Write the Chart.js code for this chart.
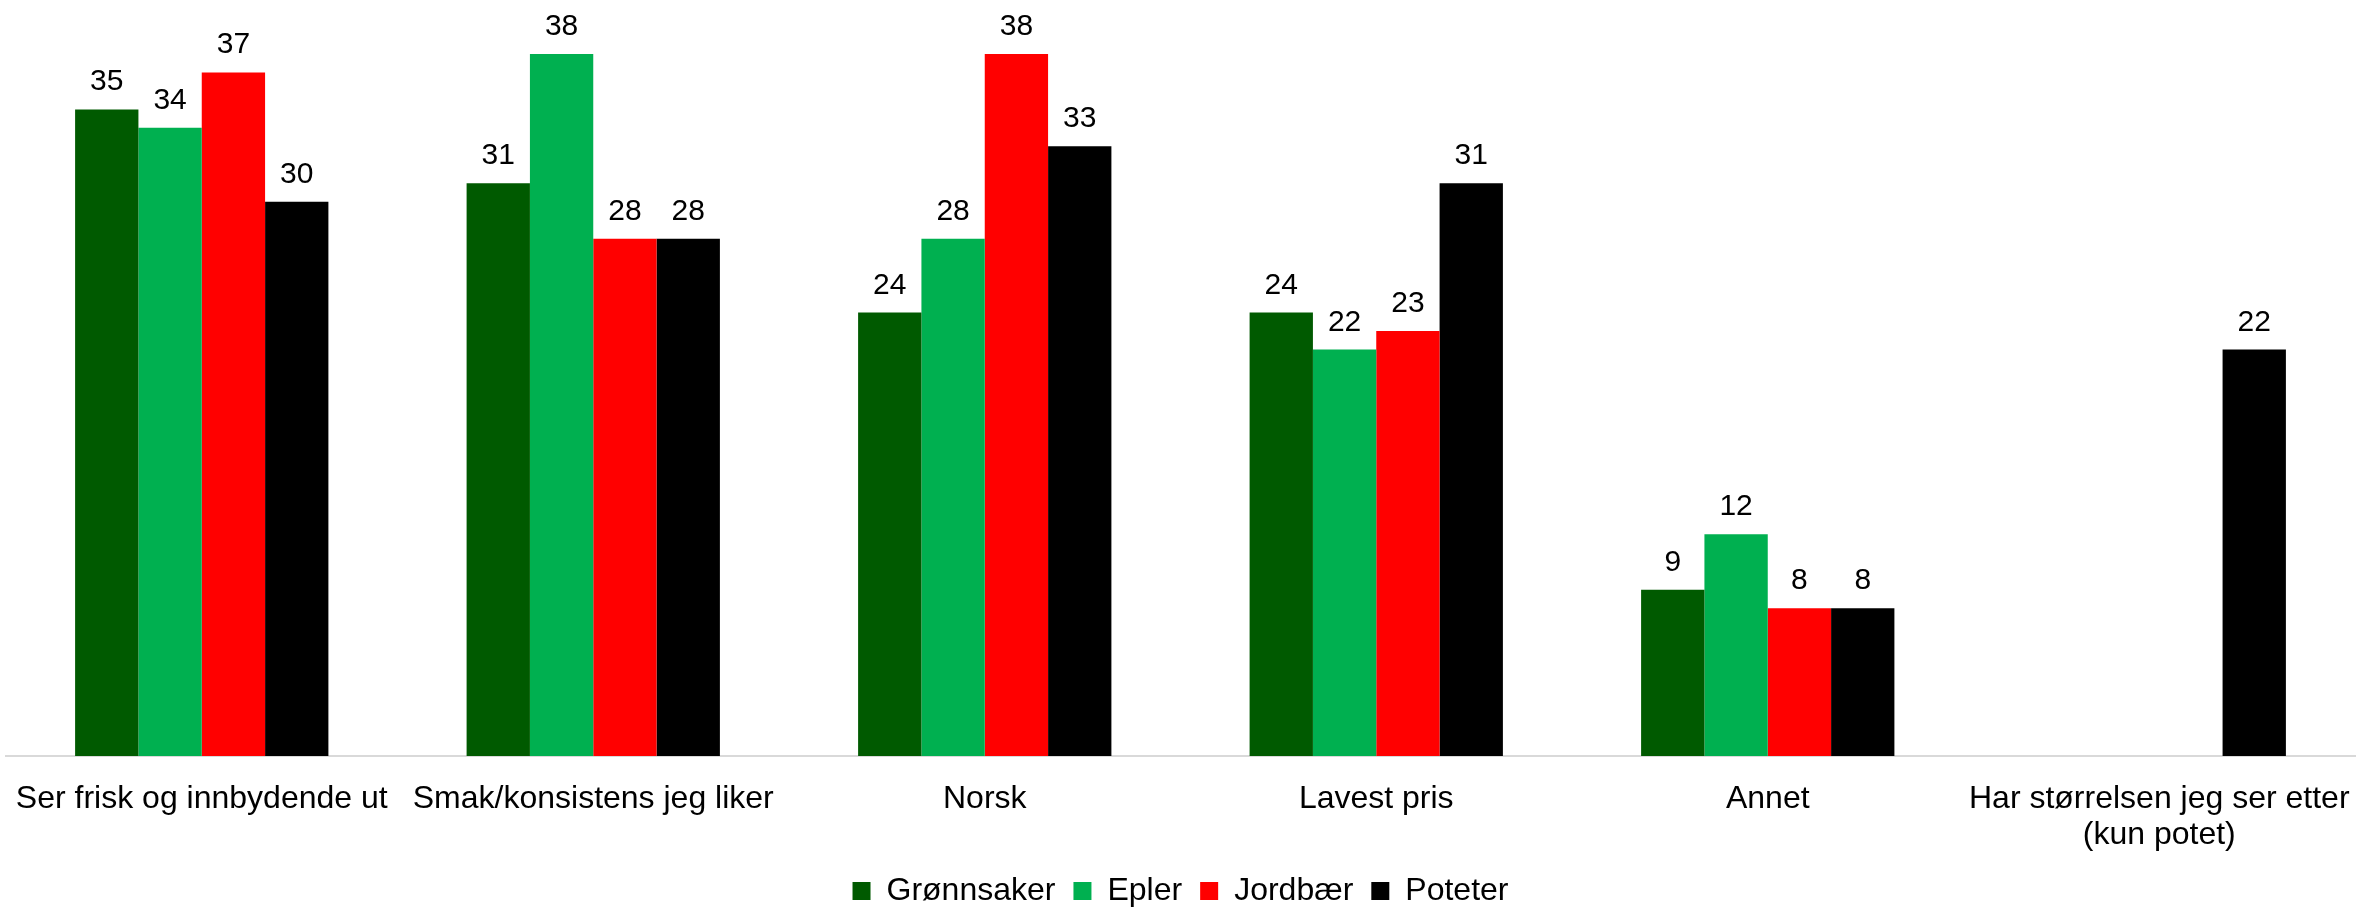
<!DOCTYPE html>
<html lang="no">
<head>
<meta charset="utf-8">
<title>Viktigste kjøpskriterier</title>
<script src="https://cdn.jsdelivr.net/npm/chart.js@4.4.1/dist/chart.umd.min.js"></script>
<style>
    html, body { margin: 0; padding: 0; background: #fff; }
    #wrap { width: 2356px; height: 907px; position: relative; }
</style>
</head>
<body>
<div id="wrap"><canvas id="kriterier"></canvas></div>
<script>
// Categories and series (percent)
const categories = [
    'Ser frisk og innbydende ut',
    'Smak/konsistens jeg liker',
    'Norsk',
    'Lavest pris',
    'Annet',
    ['Har størrelsen jeg ser etter', '(kun potet)']
];
const gronnsaker = [35, 31, 24, 24, 9, null];
const epler = [34, 38, 28, 22, 12, null];
const jordbaer = [37, 28, 38, 23, 8, null];
const poteter = [30, 28, 33, 31, 8, 22];

const fontFamily = "'Liberation Sans', Arial, sans-serif";

// Draws the value above each bar
const valueLabels = {
    id: 'valueLabels',
    afterDatasetsDraw(chart) {
        const ctx = chart.ctx;
        ctx.save();
        ctx.font = '30px ' + fontFamily;
        ctx.fillStyle = '#000';
        ctx.textAlign = 'center';
        ctx.textBaseline = 'alphabetic';
        chart.data.datasets.forEach((ds, i) => {
            const meta = chart.getDatasetMeta(i);
            meta.data.forEach((bar, j) => {
                const v = ds.data[j];
                if (v === null || v === undefined) return;
                ctx.fillText(String(v), bar.x, bar.y - 19);
            });
        });
        ctx.restore();
    }
};

function makeChart() {
    const ctx = document.getElementById('kriterier').getContext('2d');
    new Chart(ctx, {
        type: 'bar',
        data: {
            labels: categories,
            datasets: [
                { label: 'Grønnsaker', data: gronnsaker, backgroundColor: '#005a00' },
                { label: 'Epler', data: epler, backgroundColor: '#00b050' },
                { label: 'Jordbær', data: jordbaer, backgroundColor: '#ff0000' },
                { label: 'Poteter', data: poteter, backgroundColor: '#000000' }
            ]
        },
        options: {
            responsive: true,
            maintainAspectRatio: false,
            animation: false,
            datasets: {
                bar: { categoryPercentage: 0.647, barPercentage: 1.0 }
            },
            layout: {
                padding: { top: 17, left: 6, right: 1, bottom: 0 }
            },
            scales: {
                x: {
                    grid: { display: false, drawTicks: false },
                    border: { display: true, color: '#d9d9d9', width: 2 },
                    ticks: {
                        color: '#000',
                        font: { family: fontFamily, size: 32, lineHeight: 1.13 },
                        padding: 25,
                        maxRotation: 0,
                        autoSkip: false
                    },
                    // fixed label band; outer labels may reach the canvas edge
                    afterFit(scale) {
                        scale.height = 101;
                        scale.paddingLeft = 0;
                        scale.paddingRight = 0;
                    }
                },
                y: {
                    display: false,
                    min: 0,
                    max: 40
                }
            },
            plugins: {
                legend: {
                    position: 'bottom',
                    maxHeight: 50,
                    labels: {
                        color: '#000',
                        font: { family: fontFamily, size: 32 },
                        boxWidth: 18,
                        boxHeight: 18,
                        padding: 18
                    }
                },
                tooltip: { enabled: false }
            }
        },
        plugins: [valueLabels]
    });
}

document.addEventListener('DOMContentLoaded', makeChart);
</script>
</body>
</html>
